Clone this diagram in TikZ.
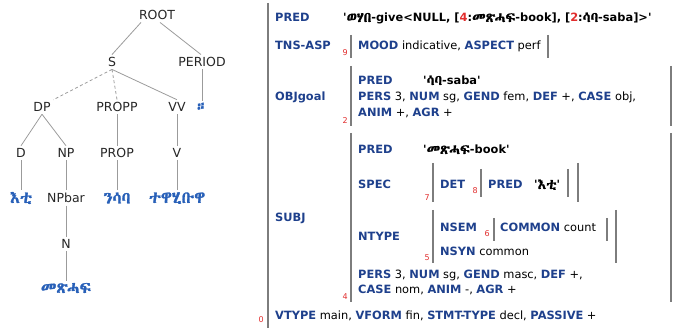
\documentclass[tikz,border=0pt]{standalone}
\usepackage{fontspec}
\setmainfont{DejaVu Sans}
\IfFontExistsTF{Abyssinica SIL}{\newfontfamily\eth[AutoFakeBold=1.5]{Abyssinica SIL}}{%
  \IfFontExistsTF{FreeSerif}{\newfontfamily\eth{FreeSerif}}{%
    \IfFontExistsTF{NotoSansEthiopic-Regular.ttf}{\newfontfamily\eth[BoldFont=NotoSansEthiopic-Bold.ttf]{NotoSansEthiopic-Regular.ttf}}{%
      \newfontfamily\eth{DejaVu Sans}}}}
\definecolor{attr}{RGB}{30,64,140}
\definecolor{leaf}{RGB}{40,96,184}
\definecolor{idx}{RGB}{225,45,45}
\definecolor{barc}{RGB}{125,125,125}
\definecolor{edgec}{RGB}{155,155,155}
\newcommand\fa[1]{{\bfseries\color{attr}#1}}
\newcommand\rn[1]{{\color{idx}#1}}
\newcommand\et[1]{{\eth\fontsize{14.2}{14}\selectfont #1}}
\newcommand\sq{\textquotesingle}
\tikzset{
  cat/.style={font=\fontsize{12.5}{14}\selectfont, text=black!85, inner sep=2.5pt},
  lf/.style={font=\fontsize{16.5}{18}\selectfont\eth\bfseries, text=leaf, inner sep=2pt},
  tl/.style={draw=edgec, line width=0.8pt},
  tld/.style={tl, dash pattern=on 3pt off 2.5pt},
  fs/.style={anchor=base west, inner sep=0pt, font=\fontsize{11.4}{13}\selectfont},
  ix/.style={anchor=base east, inner sep=0pt, text=idx, font=\fontsize{8}{9}\selectfont},
  fbar/.style={draw=barc, line width=1.8pt},
}
\begin{document}
\begin{tikzpicture}[x=1pt,y=-1pt]
\useasboundingbox (0,0) rectangle (673,328);
% ---------- tree ----------
\node[cat] (root) at (157,15) {ROOT};
\node[cat] (s) at (112,62) {S};
\node[cat] (period) at (202,62) {PERIOD};
\node[cat] (dp) at (42,107) {DP};
\node[cat] (propp) at (117,107) {PROPP};
\node[cat] (vv) at (177,107) {VV};
\node[lf] (pm) at (202,107) {።};
\node[cat] (d) at (21,153) {D};
\node[cat] (np) at (66,153) {NP};
\node[cat] (prop) at (117,153) {PROP};
\node[cat] (v) at (177,153) {V};
\node[lf] (eti) at (21,198) {እቲ};
\node[cat] (npbar) at (66,198) {NPbar};
\node[lf] (nsaba) at (117,198) {ንሳባ};
\node[lf] (tewahibuwa) at (177,198) {ተዋሂቡዋ};
\node[cat] (n) at (66,244) {N};
\node[lf] (metshaf) at (66,288) {መጽሓፍ};
\draw[tl] ([xshift=-16pt]root.south) -- (s.north);
\draw[tl] ([xshift=3pt]root.south) -- ([xshift=-1pt]period.north);
\draw[tld] (s.south) -- (dp.north east);
\draw[tld] (s.south) -- (propp.north);
\draw[tl] (s.south) -- (vv.north);
\draw[tl] (period.south) -- (pm.north);
\draw[tl] (dp.south) -- (d.north);
\draw[tl] (dp.south) -- (np.north);
\draw[tl] (propp.south) -- (prop.north);
\draw[tl] (vv.south) -- (v.north);
\draw[tl] (d.south) -- (eti.north);
\draw[tl] (np.south) -- (npbar.north);
\draw[tl] (prop.south) -- (nsaba.north);
\draw[tl] (v.south) -- (tewahibuwa.north);
\draw[tl] (npbar.south) -- (n.north);
\draw[tl] (n.south) -- (metshaf.north);
% ---------- f-structure ----------
% outer
\draw[fbar] (268,3) -- (268,330);
\node[ix] (i0) at (264,323) {0};
\node[fs] (pred) at (275,22) {\fa{PRED}};
\node[fs] (predv) at (343,22) {\bfseries \sq\et{ወሃበ}-give<NULL, [\rn{4}:\et{መጽሓፍ}-book], [\rn{2}:\et{ሳባ}-saba]>\sq};
% TNS-ASP
\node[fs] (tns) at (275,50) {\fa{TNS-ASP}};
\node[ix] (i9) at (348,56) {9};
\draw[fbar] (351,35) -- (351,58);
\node[fs] (tnsv) at (358,50) {\fa{MOOD} indicative, \fa{ASPECT} perf};
\draw[fbar] (548,35) -- (548,58);
% OBJgoal
\node[fs] (obj) at (275,101) {\fa{OBJgoal}};
\node[ix] (i2) at (348,124) {2};
\draw[fbar] (351,66) -- (351,126);
\node[fs] (objpred) at (358,85) {\fa{PRED}};
\node[fs] (objpredv) at (423,85) {\bfseries \sq\et{ሳባ}-saba\sq};
\node[fs] (objl1) at (358,101) {\fa{PERS} 3, \fa{NUM} sg, \fa{GEND} fem, \fa{DEF} +, \fa{CASE} obj,};
\node[fs] (objl2) at (358,117) {\fa{ANIM} +, \fa{AGR} +};
\draw[fbar] (671,66) -- (671,126);
% SUBJ
\node[fs] (subj) at (275,222) {\fa{SUBJ}};
\node[ix] (i4) at (348,300) {4};
\draw[fbar] (351,133) -- (351,302);
\node[fs] (spred) at (358,154) {\fa{PRED}};
\node[fs] (spredv) at (423,154) {\bfseries \sq\et{መጽሓፍ}-book\sq};
\node[fs] (spec) at (358,189) {\fa{SPEC}};
\node[ix] (i7) at (430,201) {7};
\draw[fbar] (433,163) -- (433,202);
\node[fs] (det) at (440,189) {\fa{DET}};
\node[ix] (i8) at (478,194) {8};
\draw[fbar] (481,169) -- (481,197);
\node[fs] (dpred) at (488,189) {\fa{PRED}};
\node[fs] (dpredv) at (534,189) {\bfseries \sq\et{እቲ}\sq};
\draw[fbar] (568,169) -- (568,197);
\draw[fbar] (578,163) -- (578,202);
\node[fs] (ntype) at (358,241) {\fa{NTYPE}};
\node[ix] (i5) at (430,261) {5};
\draw[fbar] (433,210) -- (433,263);
\node[fs] (nsem) at (440,232) {\fa{NSEM}};
\node[ix] (i6) at (490,237) {6};
\draw[fbar] (494,218) -- (494,241);
\node[fs] (common) at (500,232) {\fa{COMMON} count};
\draw[fbar] (607,218) -- (607,241);
\node[fs] (nsyn) at (440,256) {\fa{NSYN} common};
\draw[fbar] (616,210) -- (616,263);
\node[fs] (sl1) at (358,279) {\fa{PERS} 3, \fa{NUM} sg, \fa{GEND} masc, \fa{DEF} +,};
\node[fs] (sl2) at (358,294) {\fa{CASE} nom, \fa{ANIM} -, \fa{AGR} +};
\draw[fbar] (671,133) -- (671,302);
% bottom line
\node[fs] (vtype) at (275,320) {\fa{VTYPE} main, \fa{VFORM} fin, \fa{STMT-TYPE} decl, \fa{PASSIVE} +};
\end{tikzpicture}
\end{document}
